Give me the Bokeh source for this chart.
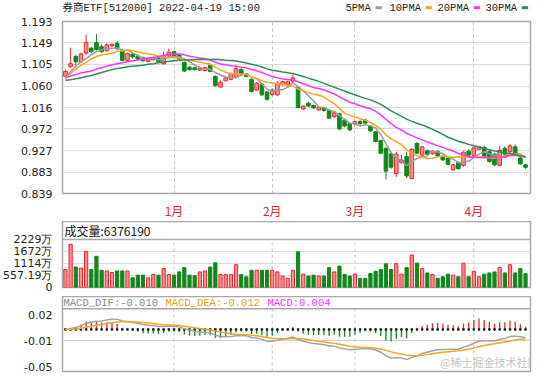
import pandas as pd
from bokeh.plotting import figure
from bokeh.layouts import column
from bokeh.models import FixedTicker, Label, Span, Range1d
from bokeh.embed import file_html
from bokeh.resources import INLINE

# ---------------- data ----------------
opens = [1.080, 1.100, 1.121, 1.110, 1.128, 1.138, 1.150, 1.141, 1.133, 1.143,
         1.148, 1.133, 1.113, 1.126, 1.122, 1.119, 1.111, 1.114, 1.118, 1.106,
         1.122, 1.131, 1.124, 1.109, 1.099, 1.098, 1.093, 1.092, 1.103, 1.080,
         1.058, 1.071, 1.074, 1.078, 1.094, 1.085, 1.074, 1.052, 1.064, 1.048,
         1.043, 1.042, 1.063, 1.064, 1.070, 1.057, 1.013, 1.025, 1.020, 1.011,
         1.014, 1.010, 0.997, 1.003, 0.990, 0.983, 0.982, 0.987, 0.990, 0.978,
         0.966, 0.948, 0.932, 0.921, 0.880, 0.903, 0.915, 0.870, 0.942, 0.918,
         0.927, 0.921, 0.925, 0.915, 0.912, 0.888, 0.903, 0.897, 0.926, 0.917,
         0.930, 0.934, 0.925, 0.920, 0.897, 0.932, 0.925, 0.935, 0.912, 0.898]
highs = [1.093, 1.139, 1.125, 1.129, 1.166, 1.141, 1.167, 1.146, 1.148, 1.148,
         1.153, 1.137, 1.129, 1.129, 1.125, 1.121, 1.118, 1.121, 1.121, 1.131,
         1.137, 1.133, 1.126, 1.110, 1.101, 1.100, 1.100, 1.100, 1.105, 1.082,
         1.072, 1.080, 1.088, 1.104, 1.099, 1.087, 1.076, 1.068, 1.066, 1.050,
         1.055, 1.070, 1.071, 1.071, 1.084, 1.058, 1.020, 1.028, 1.022, 1.018,
         1.016, 1.012, 1.007, 1.005, 0.992, 0.985, 0.989, 0.990, 0.993, 0.980,
         0.968, 0.950, 0.934, 0.925, 0.925, 0.919, 0.925, 0.932, 0.945, 0.936,
         0.930, 0.928, 0.928, 0.918, 0.914, 0.900, 0.905, 0.926, 0.930, 0.936,
         0.937, 0.938, 0.930, 0.922, 0.937, 0.936, 0.941, 0.940, 0.915, 0.900]
lows = [1.076, 1.098, 1.102, 1.107, 1.125, 1.128, 1.133, 1.128, 1.131, 1.140,
        1.134, 1.111, 1.110, 1.117, 1.113, 1.110, 1.109, 1.113, 1.108, 1.104,
        1.120, 1.118, 1.114, 1.089, 1.092, 1.092, 1.091, 1.090, 1.089, 1.059,
        1.057, 1.070, 1.072, 1.076, 1.083, 1.078, 1.047, 1.050, 1.040, 1.030,
        1.040, 1.040, 1.061, 1.062, 1.067, 1.014, 1.011, 1.017, 1.013, 1.010,
        1.007, 0.993, 0.995, 0.969, 0.975, 0.967, 0.979, 0.980, 0.981, 0.966,
        0.944, 0.920, 0.868, 0.890, 0.873, 0.900, 0.870, 0.868, 0.920, 0.916,
        0.918, 0.919, 0.915, 0.906, 0.897, 0.886, 0.888, 0.894, 0.915, 0.915,
        0.928, 0.912, 0.902, 0.895, 0.895, 0.917, 0.922, 0.916, 0.898, 0.890]
closes = [1.090, 1.106, 1.110, 1.126, 1.150, 1.131, 1.135, 1.131, 1.145, 1.146,
          1.137, 1.113, 1.127, 1.120, 1.116, 1.112, 1.116, 1.118, 1.110, 1.123,
          1.130, 1.120, 1.116, 1.091, 1.094, 1.094, 1.097, 1.098, 1.090, 1.061,
          1.068, 1.077, 1.086, 1.096, 1.085, 1.080, 1.049, 1.066, 1.042, 1.033,
          1.052, 1.066, 1.069, 1.069, 1.077, 1.016, 1.019, 1.019, 1.015, 1.016,
          1.010, 0.994, 1.005, 0.972, 0.978, 0.970, 0.987, 0.983, 0.984, 0.968,
          0.946, 0.922, 0.885, 0.893, 0.920, 0.908, 0.875, 0.930, 0.922, 0.935,
          0.920, 0.926, 0.917, 0.908, 0.899, 0.898, 0.890, 0.924, 0.918, 0.933,
          0.935, 0.914, 0.905, 0.898, 0.928, 0.920, 0.937, 0.918, 0.900, 0.893]
# volume in 万 (10 000)
volumes = [829, 2002, 947, 902, 1669, 829, 1443, 798, 767, 694,
           767, 767, 767, 451, 573, 573, 451, 604, 573, 875,
           604, 573, 722, 920, 573, 541, 722, 767, 947, 1146,
           604, 604, 604, 1055, 604, 496, 798, 798, 798, 798,
           798, 722, 528, 424, 798, 1655, 618, 528, 573, 528,
           528, 920, 722, 992, 604, 528, 618, 424, 424, 649,
           753, 829, 1100, 829, 1100, 618, 920, 1506, 1128, 875,
           676, 604, 424, 496, 618, 573, 496, 1128, 496, 753,
           496, 618, 676, 722, 920, 676, 1055, 676, 875, 637.619]

# moving-average values of the first days (their windows reach before the chart)
ma5_head = [1.077, 1.090, 1.101, 1.110]
ma10_head = [1.077, 1.086, 1.095, 1.103, 1.109, 1.116, 1.121, 1.124, 1.126]
ma20_head = [1.077, 1.081, 1.084, 1.087, 1.089, 1.091, 1.095, 1.098, 1.101, 1.104,
             1.106, 1.108, 1.110, 1.112, 1.114, 1.115, 1.117, 1.119, 1.121]
ma30_head = [1.072, 1.073, 1.075, 1.077, 1.080, 1.082, 1.085, 1.088, 1.091, 1.094,
             1.096, 1.098, 1.100, 1.101, 1.102, 1.103, 1.105, 1.106, 1.108, 1.109,
             1.111, 1.112, 1.113, 1.114, 1.114, 1.115, 1.115, 1.115, 1.115]

month_ticks = [21, 40, 56, 79]
month_labels = ["1月", "2月", "3月", "4月"]
price_ticks = [1.193, 1.149, 1.105, 1.060, 1.016, 0.972, 0.927, 0.883, 0.839]
price_labels = ["1.193", "1.149", "1.105", "1.060", "1.016", "0.972", "0.927", "0.883", "0.839"]
vol_ticks = [0, 557.19, 1114.38, 1671.57, 2228.76]
vol_labels = ["0", "557.19万", "1114万", "1672万", "2229万"]
macd_ticks = [0.02, -0.015, -0.05]
macd_labels = ["0.02", "-0.01", "-0.05"]
ma_periods = [5, 10, 20, 30]
ma_heads = [ma5_head, ma10_head, ma20_head, ma30_head]
ma_names = ["5PMA", "10PMA", "20PMA", "30PMA"]
title_text = "券商ETF[512000] 2022-04-19 15:00"
vol_text = "成交量:6376190"
macd_texts = ["MACD_DIF:-0.010", "MACD_DEA:-0.012", "MACD:0.004"]
watermark = "@稀土掘金技术社区"

# ---------------- derived series ----------------
days = list(range(len(closes)))
cl = pd.Series(closes)
mas = []
for n, head in zip(ma_periods, ma_heads):
    full = cl.rolling(n).mean().tolist()
    mas.append(head + full[len(head):])
ema12 = cl.ewm(span=12, adjust=False).mean()
ema26 = cl.ewm(span=26, adjust=False).mean()
dif = ema12 - ema26
dea = dif.ewm(span=9, adjust=False).mean()
hist = (2 * (dif - dea)).tolist()

RED = "#e8262b"
RED_FILL = "#ff8f8f"
GREEN = "#11881a"
up = [c >= o for o, c in zip(opens, closes)]
line_cols = [RED if u else GREEN for u in up]
fill_cols = [RED_FILL if u else GREEN for u in up]
body_top = [max(o, c) for o, c in zip(opens, closes)]
body_bot = [min(o, c) for o, c in zip(opens, closes)]

MA_COLORS = ["#9d9d9d", "#f5a623", "#ff33ff", "#2f8a5c"]
AXIS_FONT = "DejaVu Sans"
MONO = "Liberation Mono, Noto Sans CJK SC"

XR = Range1d(-0.57, 89.96)


def base(height, y_range, top, bottom):
    p = figure(width=538, height=height, x_range=XR, y_range=y_range,
               output_backend="svg", toolbar_location=None,
               min_border_left=52, min_border_right=8,
               min_border_top=top, min_border_bottom=bottom)
    p.outline_line_color = "#a8a8a8"
    p.outline_line_width = 1.5
    p.background_fill_color = "white"
    p.border_fill_color = "white"
    p.yaxis.axis_line_color = None
    p.yaxis.major_tick_line_color = None
    p.yaxis.minor_tick_line_color = None
    p.yaxis.major_label_text_font = AXIS_FONT
    p.yaxis.major_label_text_font_size = "11px"
    p.yaxis.major_label_text_color = "#222222"
    p.yaxis.major_label_standoff = 4
    return p


# ---------------- header strip (title + MA legend) ----------------
p0 = figure(width=538, height=14, x_range=Range1d(0, 1), y_range=Range1d(0, 1),
            output_backend="svg", toolbar_location=None,
            x_axis_location=None, y_axis_location=None,
            min_border_left=52, min_border_right=8, min_border_top=0, min_border_bottom=0)
p0.grid.visible = False
p0.outline_line_color = None
p0.background_fill_color = "white"
p0.border_fill_color = "white"
p0.add_layout(Label(x=0, y=7, x_units="screen", y_units="screen", text=title_text,
                    text_font=MONO, text_font_size="10.5px", text_color="#222222",
                    text_baseline="middle"))
leg_x = [283, 327, 375, 423]
for name, col, lx in zip(ma_names, MA_COLORS, leg_x):
    p0.add_layout(Label(x=lx, y=7, x_units="screen", y_units="screen", text=name,
                        text_font="Liberation Mono", text_font_size="10.5px",
                        text_color="#222222", text_baseline="middle"))
    p0.add_layout(Label(x=lx + 6.3 * len(name) + 4, y=7, x_units="screen", y_units="screen",
                        text="▬", text_font="DejaVu Sans", text_font_size="8px",
                        text_color=col, text_baseline="middle"))

# ---------------- main K-line panel ----------------
p1 = base(207, Range1d(0.839, 1.193), 7, 21)
p1.yaxis.ticker = FixedTicker(ticks=price_ticks)
p1.yaxis.major_label_overrides = dict(zip(price_ticks, price_labels))
p1.ygrid.ticker = FixedTicker(ticks=price_ticks)
p1.ygrid.grid_line_color = "#dadada"
p1.xgrid.ticker = FixedTicker(ticks=month_ticks)
p1.xgrid.grid_line_color = "#c4c4c4"
p1.xgrid.grid_line_dash = "3 3"
p1.xaxis.ticker = FixedTicker(ticks=month_ticks)
p1.xaxis.major_label_overrides = dict(zip(month_ticks, month_labels))
p1.xaxis.axis_line_color = None
p1.xaxis.major_tick_line_color = None
p1.xaxis.minor_tick_line_color = None
p1.xaxis.major_label_standoff = 2
p1.xaxis.major_label_text_color = RED
p1.xaxis.major_label_text_font = "Noto Sans CJK SC"
p1.xaxis.major_label_text_font_size = "12px"

p1.segment(x0=days, y0=lows, x1=days, y1=highs, line_color=line_cols, line_width=1)
p1.vbar(x=days, width=0.7, top=body_top, bottom=body_bot,
        fill_color=fill_cols, line_color=line_cols, line_width=1)
for vals, col in zip(mas, MA_COLORS):
    p1.line(days, vals, line_color=col, line_width=1.5)

# ---------------- volume panel ----------------
vtop = vol_ticks[-1]
p2 = base(75, Range1d(0, 3058), 0, 9)
p2.xaxis.visible = False
p2.xgrid.visible = False
p2.yaxis.ticker = FixedTicker(ticks=vol_ticks)
p2.yaxis.major_label_overrides = dict(zip(vol_ticks, vol_labels))
p2.ygrid.ticker = FixedTicker(ticks=vol_ticks[1:-1])
p2.ygrid.grid_line_color = "#dadada"
p2.segment(x0=month_ticks, y0=[0] * 4, x1=month_ticks, y1=[vtop] * 4,
           line_color="#c4c4c4", line_dash="3 3", line_width=1)
p2.vbar(x=days, width=0.62, top=volumes, bottom=0,
        fill_color=fill_cols, line_color=line_cols, line_width=1)
p2.add_layout(Span(location=vtop, dimension="width", line_color="#a8a8a8", line_width=1.5))
p2.add_layout(Label(x=2, y=(vtop + 3058) / 2, x_units="screen", text=vol_text,
                    text_font="Noto Sans CJK SC", text_font_size="12px",
                    text_color="#111111", text_baseline="middle"))

# ---------------- MACD panel ----------------
mtop = 0.028
p3 = base(78, Range1d(-0.0567, 0.0444), 0, 3)
p3.xaxis.visible = False
p3.xgrid.visible = False
p3.yaxis.ticker = FixedTicker(ticks=macd_ticks)
p3.yaxis.major_label_overrides = dict(zip(macd_ticks, macd_labels))
p3.ygrid.ticker = FixedTicker(ticks=[macd_ticks[1]])
p3.ygrid.grid_line_color = "#d0d0d0"
p3.segment(x0=month_ticks, y0=[-0.0567] * 4, x1=month_ticks, y1=[mtop] * 4,
           line_color="#c4c4c4", line_dash="3 3", line_width=1)
hcols = [RED if h >= 0 else GREEN for h in hist]
p3.segment(x0=days, y0=[0] * len(days), x1=days, y1=hist, line_color=hcols, line_width=1.3)
p3.scatter(x=days, y=[0] * len(days), marker="square", size=1.6, color="#222222")
p3.line(days, dif.tolist(), line_color="#a3a3a3", line_width=1.5)
p3.line(days, dea.tolist(), line_color="#f2a62a", line_width=1.5)
p3.add_layout(Span(location=mtop, dimension="width", line_color="#a8a8a8", line_width=1.5))
for txt, col, lx in zip(macd_texts, ["#8a8a8a", "#f0a020", "#ff33ff"], [1, 103, 205]):
    p3.add_layout(Label(x=lx, y=(mtop + 0.0444) / 2, x_units="screen", text=txt,
                        text_font="Liberation Mono", text_font_size="10.5px",
                        text_color=col, text_baseline="middle"))
p3.add_layout(Label(x=476, y=2, x_units="screen", y_units="screen", text=watermark,
                    text_font="Noto Sans CJK SC", text_font_size="11px",
                    text_color="#c4c4c4", text_align="right", text_baseline="bottom"))

layout = column(p0, p1, p2, p3, spacing=0)
open("out.html", "w").write(file_html(layout, INLINE))
